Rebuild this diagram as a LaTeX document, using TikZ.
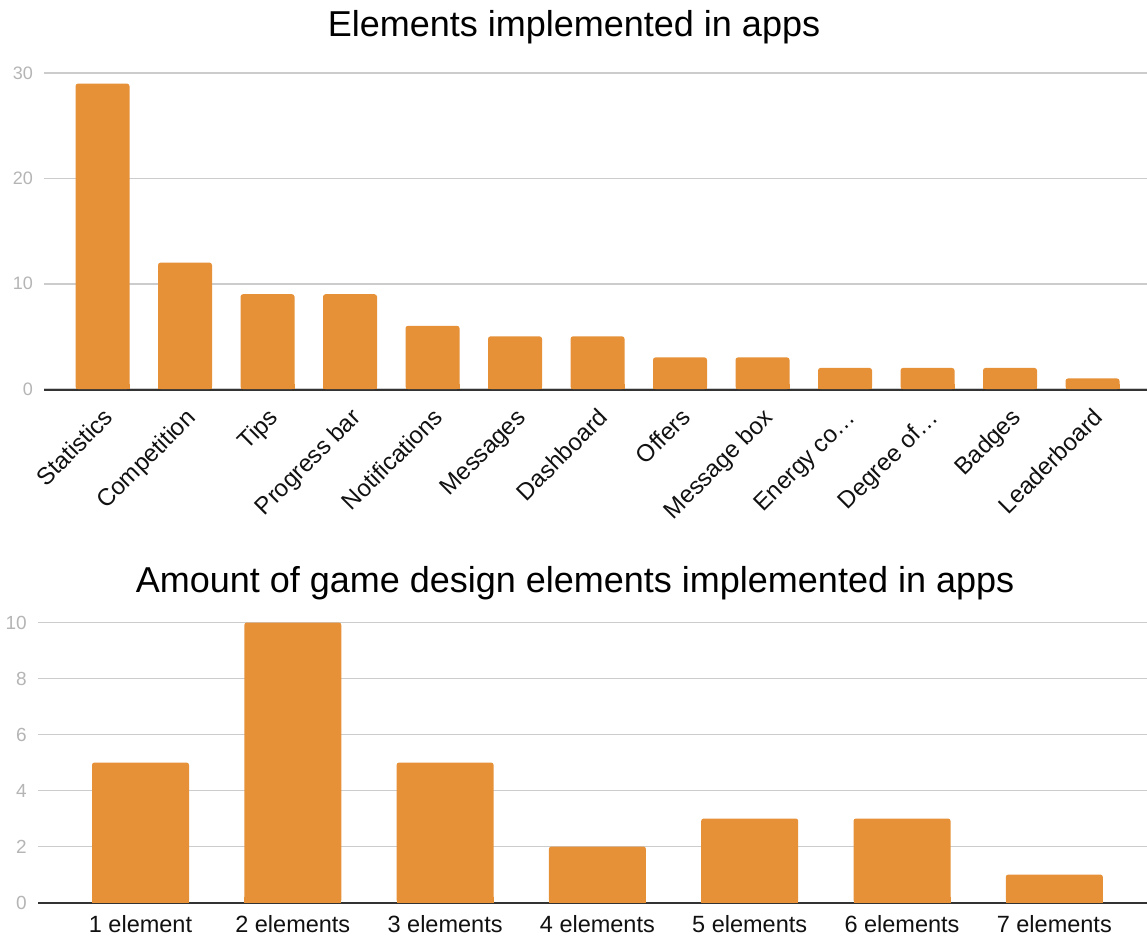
\documentclass[tikz,border=0pt]{standalone}
\usepackage{fontspec}
\setmainfont{Liberation Sans}
\definecolor{barorange}{HTML}{E69138}
\definecolor{gridgray}{HTML}{CCCCCC}
\definecolor{axisdark}{HTML}{333333}
\definecolor{ticklabel}{HTML}{B5B5B5}
\definecolor{labelblack}{HTML}{111111}

\begin{document}
\begin{tikzpicture}[x=1pt,y=-1pt,
  gridline/.style={draw=gridgray,line width=1.6pt},
  baseaxis/.style={draw=axisdark,line width=2pt},
  barfill/.style={fill=barorange},
  charttitle/.style={font=\fontsize{36}{40}\selectfont,anchor=base,inner sep=0pt},
  ylabtop/.style={font=\fontsize{18}{20}\selectfont,text=ticklabel,anchor=east,inner sep=0pt},
  ylabbot/.style={font=\fontsize{19}{21}\selectfont,text=ticklabel,anchor=east,inner sep=0pt},
  xlabrot/.style={font=\fontsize{24}{26}\selectfont,text=labelblack,anchor=base east,rotate=45,inner sep=0pt},
  xlabflat/.style={font=\fontsize{23.5}{26}\selectfont,text=labelblack,anchor=base,inner sep=0pt}]

\useasboundingbox[fill=white] (0,0) rectangle (1147,937);

% ---------- upper chart ----------
\node[charttitle] (title1) at (574,36) {Elements implemented in apps};

\foreach \v/\y in {0/389,10/283.7,20/178.4,30/73.1} {
  \draw[gridline] (44,\y) -- (1147,\y);
  \node[ylabtop] (ya\v) at (33,\y) {\v};
}
\draw[baseaxis] (44,389.5) -- (1147,389.5);

\foreach \val/\lab [count=\i from 0] in {29/Statistics, 12/Competition, 9/Tips,
    9/Progress bar, 6/Notifications, 5/Messages, 5/Dashboard, 3/Offers,
    3/Message box, 2/Energy co…, 2/Degree of…, 2/Badges, 1/Leaderboard} {
  \pgfmathsetmacro\xc{102.5+82.5*\i}
  \pgfmathsetmacro\yt{389-10.53*\val}
  \fill[barfill,rounded corners=2.5pt] (\xc-27,389) rectangle (\xc+27,\yt);
  \fill[barfill] (\xc-27,389) rectangle (\xc+27,384);
  \node[xlabrot] (xa\i) at (\xc+12,419) {\lab};
}

% ---------- lower chart ----------
\node[charttitle] (title2) at (575,592) {Amount of game design elements implemented in apps};

\foreach \v in {0,2,4,6,8,10} {
  \pgfmathsetmacro\y{902.5-28*\v}
  \draw[gridline] (38,\y) -- (1147,\y);
  \node[ylabbot] (yb\v) at (27,\y) {\v};
}
\draw[baseaxis] (38,903) -- (1147,903);

\foreach \val/\lab [count=\i from 0] in {5/1 element, 10/2 elements, 5/3 elements,
    2/4 elements, 3/5 elements, 3/6 elements, 1/7 elements} {
  \pgfmathsetmacro\xc{140.5+152.3*\i}
  \pgfmathsetmacro\yt{902.5-28*\val}
  \fill[barfill,rounded corners=2.5pt] (\xc-48.5,902.5) rectangle (\xc+48.5,\yt);
  \fill[barfill] (\xc-48.5,902.5) rectangle (\xc+48.5,897);
  \node[xlabflat] (xb\i) at (\xc,932) {\lab};
}
\end{tikzpicture}
\end{document}
